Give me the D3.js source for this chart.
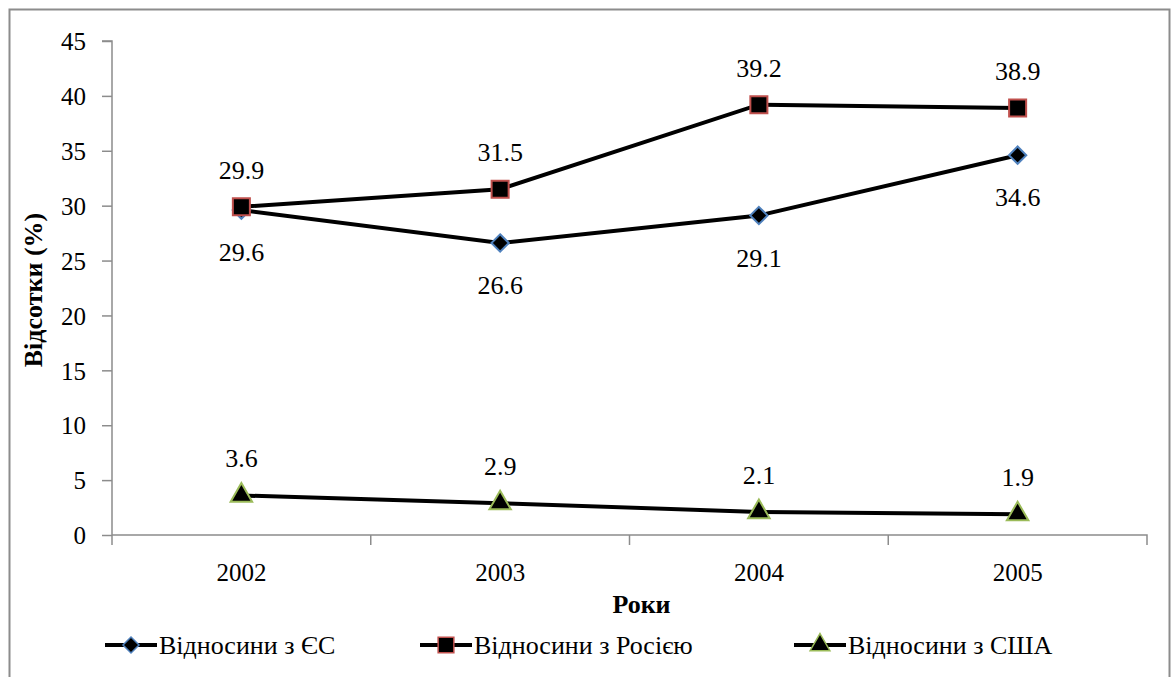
<!DOCTYPE html>
<html>
<head>
<meta charset="utf-8">
<script src="https://cdn.jsdelivr.net/npm/d3@7"></script>
</head>
<body style="margin:0">
<svg id="s" width="1171" height="677" font-family="Tinos"></svg>
<script>
const years = ["2002", "2003", "2004", "2005"];
const euValues = [29.6, 26.6, 29.1, 34.6];
const ruValues = [29.9, 31.5, 39.2, 38.9];
const usValues = [3.6, 2.9, 2.1, 1.9];
const yTicks = [0, 5, 10, 15, 20, 25, 30, 35, 40, 45];
const seriesNames = ["Відносини з ЄС", "Відносини з Росією", "Відносини з США"];

const fontOf = () => "'Tinos', monospace";

// diamond as a square turned by 45 degrees
const squareDiamond = {
  draw(ctx, size) {
    const r = Math.sqrt(size / 2);
    ctx.moveTo(0, -r); ctx.lineTo(r, 0); ctx.lineTo(0, r); ctx.lineTo(-r, 0); ctx.closePath();
  }
};

const series = [
  { name: seriesNames[0], values: euValues, shape: squareDiamond, stroke: "#4f81bd", size: 150, labelPos: "below" },
  { name: seriesNames[1], values: ruValues, shape: d3.symbolSquare, stroke: "#c0504d", size: 290, labelPos: "above" },
  { name: seriesNames[2], values: usValues, shape: d3.symbolTriangle, stroke: "#9bbb59", size: 200, labelPos: "above" }
];

const svg = d3.select("#s");

svg.append("rect")
  .attr("x", 9.5).attr("y", 9.5)
  .attr("width", 1160).attr("height", 680)
  .attr("fill", "none")
  .attr("stroke", "#8c8c8c")
  .attr("stroke-width", 2);

const plot = { left: 112, right: 1147, top: 41, bottom: 535 };

const x = d3.scaleBand().domain(years).range([plot.left, plot.right]);
const y = d3.scaleLinear().domain([0, 45]).range([plot.bottom, plot.top]);
const cx = d => x(d) + x.bandwidth() / 2;

// y axis
const yAxis = svg.append("g")
  .attr("transform", `translate(${plot.left},0)`)
  .call(d3.axisLeft(y).tickValues(yTicks).tickSize(10).tickPadding(16).tickFormat(d3.format("d")));
yAxis.attr("font-family", null);
yAxis.selectAll("path, line").attr("stroke", "#8c8c8c").attr("stroke-width", 1.5);
yAxis.select(".domain").attr("d", `M-10,${plot.top}H0V${plot.bottom}`);
yAxis.selectAll("text").attr("font-size", 25).attr("dy", "0.35em").style("font-family", fontOf);

// x axis
const xAxis = svg.append("g")
  .attr("transform", `translate(0,${plot.bottom})`)
  .call(d3.axisBottom(x).tickSize(0).tickPadding(28));
xAxis.attr("font-family", null);
xAxis.select(".domain").attr("d", `M${plot.left},0H${plot.right}V10`)
  .attr("stroke", "#8c8c8c").attr("stroke-width", 1.5);
xAxis.selectAll(".tick text").attr("font-size", 25).style("font-family", fontOf);
xAxis.selectAll(".bound")
  .data(years)
  .enter().append("line")
  .attr("class", "bound")
  .attr("x1", d => x(d)).attr("x2", d => x(d))
  .attr("y1", 0).attr("y2", 10)
  .attr("stroke", "#8c8c8c").attr("stroke-width", 1.5);

// axis titles
svg.append("text")
  .attr("x", (plot.left + plot.right) / 2 + 12)
  .attr("y", 613)
  .attr("text-anchor", "middle")
  .attr("font-size", 26)
  .attr("font-weight", "bold")
  .style("font-family", fontOf)
  .text("Роки");

svg.append("text")
  .attr("transform", `translate(42,${(plot.top + plot.bottom) / 2 + 2}) rotate(-90)`)
  .attr("text-anchor", "middle")
  .attr("font-size", 26)
  .attr("font-weight", "bold")
  .style("font-family", fontOf)
  .text("Відсотки (%)");

const line = d3.line()
  .x((d, i) => cx(years[i]))
  .y(d => y(d));

series.forEach(s => {
  const g = svg.append("g");
  g.append("path")
    .datum(s.values)
    .attr("d", line)
    .attr("fill", "none")
    .attr("stroke", "#000")
    .attr("stroke-width", 4);

  g.selectAll(".marker")
    .data(s.values)
    .enter().append("path")
    .attr("class", "marker")
    .attr("transform", (d, i) => `translate(${cx(years[i])},${y(d)})`)
    .attr("d", d3.symbol().type(s.shape).size(s.size))
    .attr("fill", "#000")
    .attr("stroke", s.stroke)
    .attr("stroke-width", 2);

  g.selectAll(".lbl")
    .data(s.values)
    .enter().append("text")
    .attr("class", "lbl")
    .attr("x", (d, i) => cx(years[i]))
    .attr("y", d => s.labelPos === "above" ? y(d) - 28 : y(d) + 51)
    .attr("text-anchor", "middle")
    .attr("font-size", 26)
    .style("font-family", fontOf)
    .text(d => d3.format(".1f")(d));
});

// legend
const legendX = [105, 420, 794];
const legend = svg.append("g");
series.forEach((s, i) => {
  const lg = legend.append("g").attr("transform", `translate(${legendX[i]},645)`);
  lg.append("line")
    .attr("x1", 0).attr("x2", 52)
    .attr("stroke", "#000").attr("stroke-width", 4);
  lg.append("path")
    .attr("transform", "translate(26,0)")
    .attr("d", d3.symbol().type(s.shape).size(s.size * 0.85))
    .attr("fill", "#000")
    .attr("stroke", s.stroke)
    .attr("stroke-width", 1.5);
  lg.append("text")
    .attr("x", 54)
    .attr("y", 0)
    .attr("dy", "0.35em")
    .attr("font-size", 26)
    .style("font-family", fontOf)
    .text(s.name);
});
</script>
</body>
</html>
